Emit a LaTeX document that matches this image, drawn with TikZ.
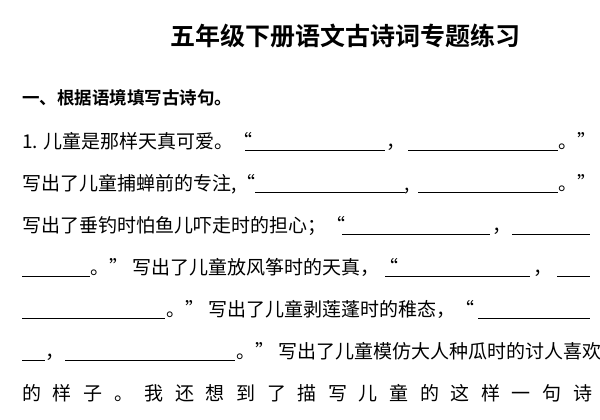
\documentclass[tikz,border=0pt]{standalone}
\usepackage{fontspec}
\newfontfamily\cjk{Noto Sans CJK SC}
\newfontfamily\cjkb{Noto Sans CJK SC Bold}
\begin{document}
\begin{tikzpicture}[x=1pt,y=-1pt,
  txt/.style={anchor=base west,inner sep=0pt,font=\cjk\fontsize{19}{19}\selectfont},
  ul/.style={line width=0.8pt}]
\useasboundingbox[fill=white] (0,0) rectangle (600,420);
\node[anchor=base,inner sep=0pt,font=\cjkb\fontsize{25}{25}\selectfont] (title) at (345,46) {五年级下册语文古诗词专题练习};
\node[txt,font=\cjkb\fontsize{17.5}{17.5}\selectfont] (head) at (22,104) {一、根据语境填写古诗句。};
% line 1
\node[txt] (l1a) at (22,148) {1. 儿童是那样天真可爱。“};
\draw[ul] (245,150) -- (385,150);
\node[txt] (l1b) at (386,148) {，};
\draw[ul] (408,150) -- (558,150);
\node[txt] (l1c) at (558,148) {。”};
% line 2
\node[txt] (l2a) at (22,190) {写出了儿童捕蝉前的专注,“};
\draw[ul] (255,192) -- (405,192);
\node[txt] (l2b) at (404,190) {,};
\draw[ul] (418,192) -- (558,192);
\node[txt] (l2c) at (558,190) {。”};
% line 3
\node[txt] (l3a) at (22,232) {写出了垂钓时怕鱼儿吓走时的担心；“};
\draw[ul] (342,234) -- (490,234);
\node[txt] (l3b) at (492,232) {，};
\draw[ul] (512,234) -- (590,234);
% line 4
\draw[ul] (22,276) -- (90,276);
\node[txt] (l4a) at (90,274) {。” 写出了儿童放风筝时的天真，“};
\draw[ul] (385,276) -- (530,276);
\node[txt] (l4b) at (533,274) {，};
\draw[ul] (557,276) -- (590,276);
% line 5
\draw[ul] (22,318) -- (165,318);
\node[txt] (l5a) at (166,316) {。” 写出了儿童剥莲蓬时的稚态，“};
\draw[ul] (478,318) -- (590,318);
% line 6
\draw[ul] (22,360) -- (45,360);
\node[txt] (l6a) at (45,358) {，};
\draw[ul] (65,360) -- (235,360);
\node[txt] (l6b) at (236,358) {。” 写出了儿童模仿大人种瓜时的讨人喜欢};
% line 7
\foreach \c [count=\i from 0] in {的,样,子,。,我,还,想,到,了,描,写,儿,童,的,这,样,一,句,诗}
  \node[txt] (l7\i) at ({22+\i*30.6},400) {\c};
\end{tikzpicture}
\end{document}
